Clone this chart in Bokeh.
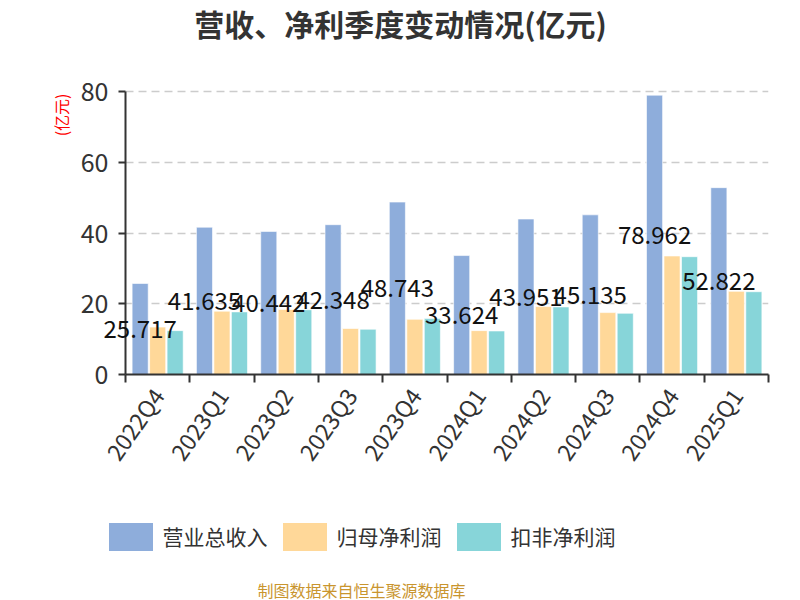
from bokeh.plotting import figure
from bokeh.models import (ColumnDataSource, FixedTicker, Legend, LegendItem,
                          Range1d, Label, Title)
from bokeh.layouts import column
from bokeh.core.properties import value
from bokeh.transform import dodge
from bokeh.embed import file_html
from bokeh.resources import INLINE
import math

quarters = ["2022Q4", "2023Q1", "2023Q2", "2023Q3", "2023Q4",
            "2024Q1", "2024Q2", "2024Q3", "2024Q4", "2025Q1"]
revenue = [25.717, 41.635, 40.442, 42.348, 48.743, 33.624, 43.951, 45.135, 78.962, 52.822]
net_profit = [13.4, 17.9, 18.4, 13.0, 15.6, 12.4, 19.2, 17.5, 33.5, 23.5]
deducted_profit = [12.4, 17.7, 18.3, 12.8, 15.8, 12.3, 19.1, 17.3, 33.3, 23.4]
series_names = ["营业总收入", "归母净利润", "扣非净利润"]
colors = ["#8EADDB", "#FFD899", "#87D5D9"]
y_ticks = [0, 20, 40, 60, 80]
y_max = 80

FONT = "Noto Sans CJK SC"
n = len(quarters)
centers = [i + 0.5 for i in range(n)]
src = ColumnDataSource(dict(
    x=centers,
    rev=revenue,
    net=net_profit,
    ded=deducted_profit,
    half=[v / 2 for v in revenue],
    lab=[("%.3f" % v) for v in revenue],
))

# ---- layout geometry (pixels) ----
W, H1, H2 = 800, 500, 100
FL, FR = 125, 768         # frame left / right
FB, YT = 374, 91          # pixel of y = 0 and y = y_max
y_top = y_max * FB / (FB - YT)

p = figure(width=W, height=H1, output_backend="svg", toolbar_location=None,
           x_range=Range1d(0, n), y_range=Range1d(0, y_top),
           min_border_left=FL, min_border_right=W - FR,
           min_border_top=0, min_border_bottom=H1 - FB)
p.title.visible = False
p.outline_line_color = None
p.background_fill_color = "white"
p.border_fill_color = "white"

bw = 0.25
off = 0.272
p.vbar(x=dodge("x", -off), top="rev", width=bw, source=src,
       fill_color=colors[0], line_color="white", line_alpha=0.6, line_width=1)
p.vbar(x="x", top="net", width=bw, source=src,
       fill_color=colors[1], line_color="white", line_alpha=0.6, line_width=1)
p.vbar(x=dodge("x", off), top="ded", width=bw, source=src,
       fill_color=colors[2], line_color="white", line_alpha=0.6, line_width=1)

p.text(x=dodge("x", -off), y="half", text="lab", source=src, level="overlay",
       text_align="center", text_baseline="middle",
       text_font=value(FONT), text_font_size="24px", text_color="#111111")

# x axis
xa = p.xaxis[0]
xa.ticker = FixedTicker(ticks=centers, minor_ticks=list(range(n + 1)))
xa.major_label_overrides = {c: q for c, q in zip(centers, quarters)}
xa.major_tick_out = 0
xa.major_tick_in = 0
xa.minor_tick_out = 8
xa.minor_tick_in = 0
xa.minor_tick_line_color = "#333333"
xa.minor_tick_line_width = 2
xa.axis_line_color = "#333333"
xa.axis_line_width = 2
xa.major_label_orientation = math.radians(55)
xa.major_label_text_font = FONT
xa.major_label_text_font_size = "23px"
xa.major_label_text_color = "#333333"
xa.major_label_standoff = 8

# y axis
ya = p.yaxis[0]
ya.bounds = (0, y_max)
ya.ticker = FixedTicker(ticks=y_ticks)
ya.minor_tick_line_color = None
ya.major_tick_out = 7
ya.major_tick_in = 0
ya.major_tick_line_color = "#333333"
ya.major_tick_line_width = 2
ya.axis_line_color = "#333333"
ya.axis_line_width = 2
ya.major_label_text_font = FONT
ya.major_label_text_font_size = "25px"
ya.major_label_text_color = "#333333"
ya.major_label_standoff = 10

p.xgrid.grid_line_color = None
p.ygrid.ticker = FixedTicker(ticks=y_ticks[1:])
p.ygrid.grid_line_color = "#CCCCCC"
p.ygrid.grid_line_dash = "8 5"
p.ygrid.grid_line_width = 1.5

title = Label(x=400 - FL, y=FB - 22, x_units="screen", y_units="screen",
              text="营收、净利季度变动情况(亿元)", text_align="center", text_baseline="middle",
              text_font=FONT, text_font_size="30px", text_font_style="bold",
              text_color="#333333")
p.add_layout(title)

unit = Title(text="(亿元)", align="right", offset=93, standoff=10,
             text_font=FONT, text_font_size="16px", text_color="#FF0000",
             text_font_style="normal")
p.add_layout(unit, "left")

# bottom strip: legend + source note (its own frame, not aligned to the chart's)
QL = 50
q = figure(width=W, height=H2, output_backend="svg", toolbar_location=None,
           x_range=Range1d(0, n), y_range=Range1d(1000, 1001),
           x_axis_type=None, y_axis_type=None,
           min_border_left=QL, min_border_right=W - FR, min_border_top=0, min_border_bottom=0)
q.frame_align = False
p.frame_align = False
q.outline_line_color = None
q.xgrid.grid_line_color = None
q.ygrid.grid_line_color = None
q.title.visible = False

# legend proxies (same data, outside the visible range of this strip)
lr = [q.vbar(x="x", top=col, width=bw, source=src, fill_color=c, line_color=None)
      for col, c in zip(["rev", "net", "ded"], colors)]

legend = Legend(items=[LegendItem(label=nm, renderers=[r]) for nm, r in zip(series_names, lr)],
                orientation="horizontal",
                location=(102.5 - QL, H2 - (553.5 - H1)),
                glyph_width=55, glyph_height=35, label_standoff=5, spacing=9,
                padding=0, margin=0, border_line_color=None, background_fill_alpha=0,
                label_text_font=FONT, label_text_font_size="21px",
                label_text_color="#333333", label_height=35)
q.add_layout(legend, "center")

footer = Label(x=361 - QL, y=H2 - (589 - H1), x_units="screen", y_units="screen",
               text="制图数据来自恒生聚源数据库", text_align="center", text_baseline="middle",
               text_font=FONT, text_font_size="16px", text_color="#C9952E")
q.add_layout(footer)

open("out.html", "w").write(file_html(column(p, q, spacing=0), INLINE))
